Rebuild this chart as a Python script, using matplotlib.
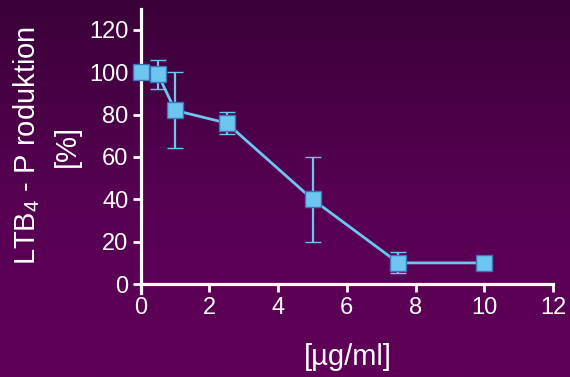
import numpy as np
import matplotlib
matplotlib.use("Agg")
import matplotlib.pyplot as plt
from matplotlib.colors import LinearSegmentedColormap

plt.rcParams['font.family'] = ['Liberation Sans', 'DejaVu Sans']
plt.rcParams['mathtext.fontset'] = 'custom'
plt.rcParams['mathtext.rm'] = 'Liberation Sans'

conc = [0, 0.5, 1, 2.5, 5, 7.5, 10]
prod = [100, 99, 82, 76, 40, 10, 10]
err = [0.5, 7, 18, 5, 20, 5, 0]

x_ticks = [0, 2, 4, 6, 8, 10, 12]
y_ticks = [0, 20, 40, 60, 80, 100, 120]

LINE = "#6cc6ef"
EDGE = "#3d74b8"
WHITE = "white"

fig = plt.figure(figsize=(5.7, 3.77), dpi=100)

# purple gradient background
bg = fig.add_axes([0, 0, 1, 1], zorder=-10)
cmap = LinearSegmentedColormap.from_list("bg", ["#3a0038", "#560052", "#600059"])
bg.imshow(np.linspace(0, 1, 256).reshape(-1, 1), aspect="auto", cmap=cmap,
          extent=[0, 1, 0, 1])
bg.axis("off")

ax = fig.add_axes([0.247, 0.224, 0.723, 0.753])
ax.set_facecolor("none")

ax.errorbar(conc, prod, yerr=err, color=LINE, lw=2, elinewidth=1.6,
            capsize=5.5, capthick=1.6, marker="s", markersize=11,
            markerfacecolor=LINE, markeredgecolor=EDGE, markeredgewidth=1,
            clip_on=False, zorder=5)

ax.set_xlim(0, 12)
ax.set_ylim(-4, 130)
ax.set_xticks(x_ticks)
ax.set_yticks(y_ticks)

for s in ["top", "right"]:
    ax.spines[s].set_visible(False)
for s in ["left", "bottom"]:
    ax.spines[s].set_color(WHITE)
    ax.spines[s].set_linewidth(2.3)
ax.spines["bottom"].set_position(("data", 0))

ax.tick_params(colors=WHITE, width=2, length=6, labelsize=17, pad=3)

fig.text(0.046, 0.613, "LTB$_4$ - P roduktion", rotation=90, color=WHITE,
         fontsize=21, ha="center", va="center")
fig.text(0.118, 0.613, "[%]", rotation=90, color=WHITE,
         fontsize=21, ha="center", va="center")
fig.text(0.61, 0.053, "[µg/ml]", color=WHITE, fontsize=21,
         ha="center", va="center")

plt.savefig("out.png", dpi=100)
